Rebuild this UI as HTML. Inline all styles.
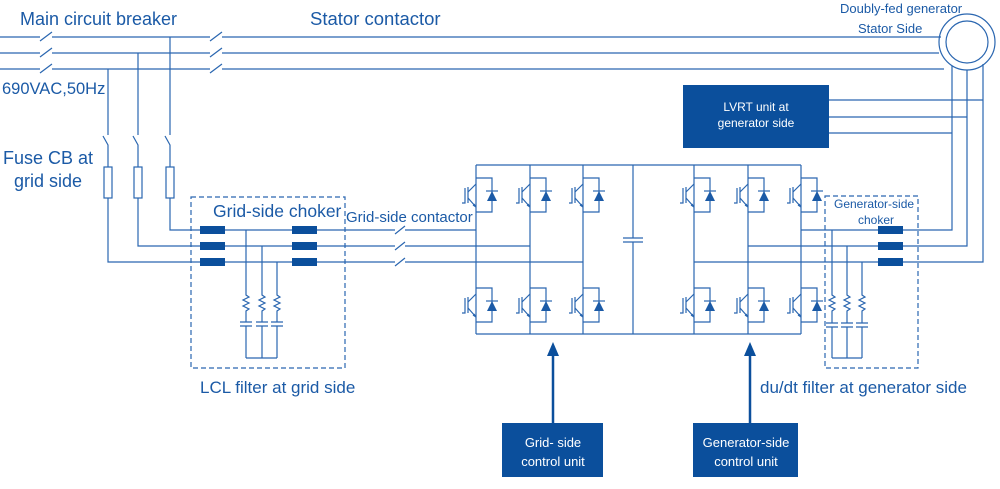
<!DOCTYPE html>
<html><head><meta charset="utf-8"><style>
body{margin:0;background:#fff}
svg{display:block}
text{font-family:"Liberation Sans",Arial,sans-serif;fill:#1b5aa6}
</style></head><body>
<svg width="1000" height="489" viewBox="0 0 1000 489" xmlns="http://www.w3.org/2000/svg">
<defs>
<g id="igbt" stroke="#2a66b0" stroke-width="1.2" fill="none">
<path d="M0,-17 H16 V17 H0"/>
<path d="M-8,-8 V8 M-11,-7 V8 H-14"/>
<path d="M-8,-3 L0,-11 M-8,3 L0,12"/>
<path d="M-3,10 L0,12 L-2,9" />
<path d="M10,-4 H22" />
<polygon points="16,-4 11,6 21,6" fill="#1b5aa6" stroke="none"/>
</g>
</defs>
<g stroke="#2a66b0" stroke-width="1.2" fill="none">
<!-- main bus -->
<path d="M0,37 H40 M52,37 H210 M222,37 H941"/>
<path d="M0,53 H40 M52,53 H210 M222,53 H939"/>
<path d="M0,69 H40 M52,69 H210 M222,69 H944"/>
<path d="M40,41 L52,32 M40,57 L52,48 M40,73 L52,64 M210,41 L222,32 M210,57 L222,48 M210,73 L222,64"/>
<circle cx="967" cy="42" r="28"/>
<circle cx="967" cy="42" r="21"/>
<!-- taps -->
<path d="M170,37 V135 M165,136 L170,145 V167 M170,198 V230 H200"/>
<path d="M138,53 V135 M133,136 L138,145 V167 M138,198 V246 H200"/>
<path d="M108,69 V135 M103,136 L108,145 V167 M108,198 V262 H200"/>
<rect x="104" y="167" width="8" height="31"/>
<rect x="134" y="167" width="8" height="31"/>
<rect x="166" y="167" width="8" height="31"/>
<!-- grid lines -->
<path d="M225,230 H292 M317,230 H395 M405,230 H476"/>
<path d="M225,246 H292 M317,246 H395 M405,246 H530"/>
<path d="M225,262 H292 M317,262 H395 M405,262 H583"/>
<path d="M395,234 L405,226 M395,250 L405,242 M395,266 L405,258"/>
<!-- lcl filter -->
<rect x="191" y="197" width="154" height="171" stroke-dasharray="5,3"/>
<path d="M246,230 V295 L249,297 L243,300 L249,303 L243,306 L249,309 L246,311 V322 M240,322 H252 M240,326 H252 M246,326 V358"/>
<path d="M262,246 V295 L265,297 L259,300 L265,303 L259,306 L265,309 L262,311 V322 M256,322 H268 M256,326 H268 M262,326 V358"/>
<path d="M277,262 V295 L280,297 L274,300 L280,303 L274,306 L280,309 L277,311 V322 M271,322 H283 M271,326 H283 M277,326 V358"/>
<path d="M246,358 H277"/>
<!-- converter -->
<path d="M476,165 H801 M476,334 H801 M476,165 V334 M530,165 V334 M583,165 V334 M694,165 V334 M748,165 V334 M801,165 V334"/>
<path d="M633,165 V238 M633,242 V334 M623,238 H643 M623,242 H643"/>
<!-- gen side -->
<path d="M801,230 H878 M903,230 H952 V66 M748,246 H878 M903,246 H967 V70 M694,262 H878 M903,262 H983 V64"/>
<path d="M829,100 H983 M829,117 H967 M829,133 H952"/>
<rect x="825" y="196" width="93" height="172" stroke-dasharray="5,3"/>
<path d="M832,230 V295 L835,297 L829,300 L835,303 L829,306 L835,309 L832,311 V323 M826,323 H838 M826,327 H838 M832,327 V358"/>
<path d="M847,246 V295 L850,297 L844,300 L850,303 L844,306 L850,309 L847,311 V323 M841,323 H853 M841,327 H853 M847,327 V358"/>
<path d="M862,262 V295 L865,297 L859,300 L865,303 L859,306 L865,309 L862,311 V323 M856,323 H868 M856,327 H868 M862,327 V358"/>
<path d="M832,358 H862"/>
</g>
<g fill="#0b4f9c">
<rect x="200" y="226" width="25" height="8"/><rect x="200" y="242" width="25" height="8"/><rect x="200" y="258" width="25" height="8"/>
<rect x="292" y="226" width="25" height="8"/><rect x="292" y="242" width="25" height="8"/><rect x="292" y="258" width="25" height="8"/>
<rect x="878" y="226" width="25" height="8"/><rect x="878" y="242" width="25" height="8"/><rect x="878" y="258" width="25" height="8"/>
<rect x="683" y="85" width="146" height="63"/>
<rect x="502" y="423" width="101" height="54"/>
<rect x="693" y="423" width="105" height="54"/>
</g>
<use href="#igbt" x="476" y="195"/><use href="#igbt" x="530" y="195"/><use href="#igbt" x="583" y="195"/>
<use href="#igbt" x="694" y="195"/><use href="#igbt" x="748" y="195"/><use href="#igbt" x="801" y="195"/>
<use href="#igbt" x="476" y="305"/><use href="#igbt" x="530" y="305"/><use href="#igbt" x="583" y="305"/>
<use href="#igbt" x="694" y="305"/><use href="#igbt" x="748" y="305"/><use href="#igbt" x="801" y="305"/>
<g stroke="#0b4f9c" stroke-width="2.5"><path d="M553,423 V352 M750,423 V352"/></g>
<g fill="#0b4f9c"><polygon points="553,342 547,356 559,356"/><polygon points="750,342 744,356 756,356"/></g>
<text x="20" y="25" font-size="18">Main circuit breaker</text>
<text x="310" y="25" font-size="18.5">Stator contactor</text>
<text x="2" y="94" font-size="16.5">690VAC,50Hz</text>
<text x="3" y="164" font-size="18">Fuse CB at</text>
<text x="14" y="187" font-size="18">grid side</text>
<text x="213" y="217" font-size="17.5">Grid-side choker</text>
<text x="346" y="222" font-size="15">Grid-side contactor</text>
<text x="200" y="393" font-size="17">LCL filter at grid side</text>
<text x="760" y="393" font-size="17">du/dt filter at generator side</text>
<text x="840" y="13" font-size="13">Doubly-fed generator</text>
<text x="858" y="33" font-size="13">Stator Side</text>
<text x="834" y="208" font-size="12">Generator-side</text>
<text x="858" y="224" font-size="12">choker</text>
<g font-size="12" text-anchor="middle">
<text x="756" y="111" style="fill:#fff">LVRT unit at</text>
<text x="756" y="127" style="fill:#fff">generator side</text>
<text x="553" y="447" font-size="13" style="fill:#fff">Grid- side</text>
<text x="553" y="466" font-size="13" style="fill:#fff">control unit</text>
<text x="746" y="447" font-size="13" style="fill:#fff">Generator-side</text>
<text x="746" y="466" font-size="13" style="fill:#fff">control unit</text>
</g>
</svg>
</body></html>
